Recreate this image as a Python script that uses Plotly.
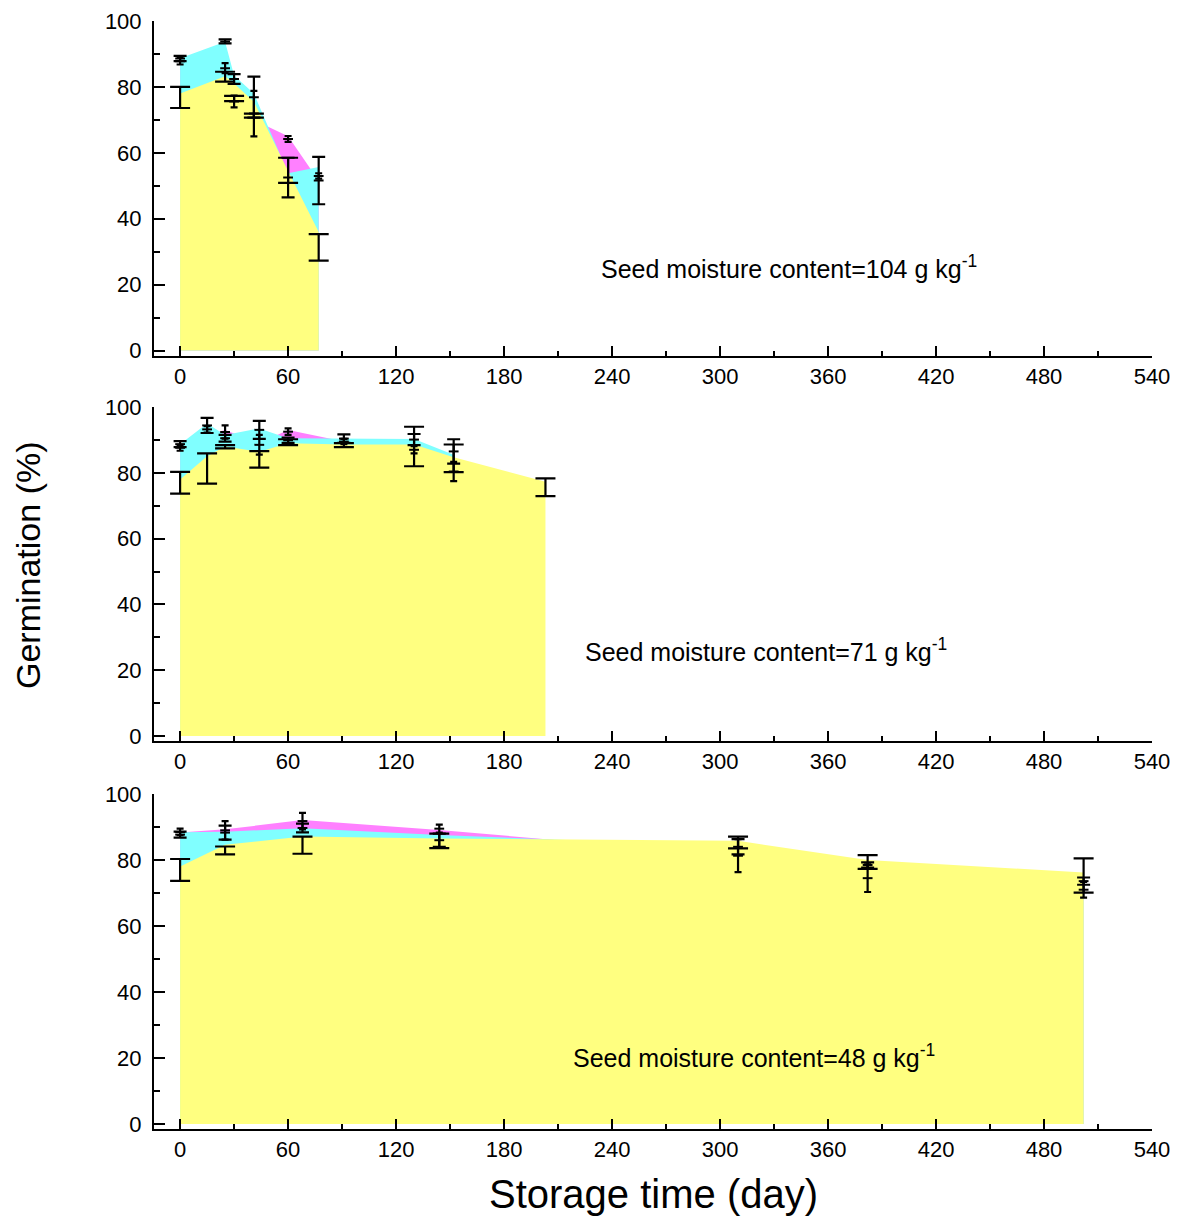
import plotly.graph_objects as go

# ---------------- data ----------------
# Panel 1: seed moisture content 104 g/kg
p1_days = [0, 25, 30, 41, 60, 77]
p1_mag_area = [87.8, 85.7, 82.0, 70.0, 65.0, 51.5]
p1_cya_area = [88.7, 93.7, 83.5, 78.0, 53.8, 55.7]
p1_yel_area = [78.0, 83.2, 81.0, 75.5, 54.5, 36.0]
p1_mag_bar = [87.8, 85.7, 75.6, 71.9, 64.2, 53.0]
p1_mag_err = [1.0, 1.5, 1.8, 6.9, 0.9, 0.8]
p1_cya_bar = [88.6, 93.8, 82.4, 76.9, 52.5, 51.6]
p1_cya_err = [0.8, 0.6, 1.5, 6.2, 6.0, 7.2]
p1_yel_bar = [76.8, 83.1, 76.5, 71.3, 54.7, 31.3]
p1_yel_err = [3.2, 1.5, 0.8, 0.6, 3.8, 4.0]

# Panel 2: seed moisture content 71 g/kg
p2_days = [0, 15, 25, 44, 60, 91, 130, 152]
p2_yel_days = [0, 15, 25, 44, 60, 91, 130, 152, 203]
p2_mag_area = [87.5, 91.5, 93.0, 89.0, 93.0, 89.5, 86.5, 80.4]
p2_cya_area = [88.7, 95.0, 91.5, 93.5, 90.5, 90.5, 90.3, 85.5]
p2_yel_area = [78.0, 85.0, 88.0, 86.4, 89.0, 88.6, 88.6, 84.7, 77.3]
p2_mag_bar = [87.6, 93.2, 92.4, 88.5, 92.5, 89.5, 87.0, 80.4]
p2_mag_err = [0.9, 1.0, 2.0, 3.0, 1.0, 0.8, 1.1, 2.9]
p2_cya_bar = [88.7, 94.4, 90.5, 93.05, 89.9, 90.4, 90.1, 86.5]
p2_cya_err = [0.9, 2.3, 1.0, 2.75, 0.8, 1.3, 1.7, 3.7]
p2_yel_bar = [77.0, 81.3, 87.9, 84.1, 89.3, 88.4, 88.0, 84.4, 75.6]
p2_yel_err = [3.3, 4.6, 0.5, 2.5, 0.9, 0.6, 6.0, 4.2, 2.7]

# Panel 3: seed moisture content 48 g/kg
p3_days = [0, 25, 68, 144, 310, 382, 502]
p3_mag_area = [88.3, 89.3, 92.1, 89.1, 81.3, 74.5, 71.0]
p3_cya_area = [88.4, 88.6, 89.6, 87.6, 84.0, 78.5, 73.6]
p3_yel_area = [78.0, 84.6, 87.1, 86.5, 85.8, 80.0, 76.2]
p3_mag_bar = [88.5, 89.0, 91.8, 89.5, 81.3, 74.5, 71.0]
p3_mag_err = [1.0, 2.8, 2.5, 1.2, 5.0, 4.2, 2.4]
p3_cya_bar = [87.7, 88.3, 89.7, 86.0, 84.0, 78.5, 73.6]
p3_cya_err = [0.9, 2.1, 1.3, 2.0, 2.3, 0.8, 1.1]
p3_yel_bar = [77.0, 82.9, 84.5, 85.8, 85.3, 79.4, 75.3]
p3_yel_err = [3.3, 1.2, 2.6, 2.2, 1.8, 2.1, 5.2]

panel_labels = ["Seed moisture content=104 g kg<sup>-1</sup>",
                "Seed moisture content=71 g kg<sup>-1</sup>",
                "Seed moisture content=48 g kg<sup>-1</sup>"]
label_pos = [(233, 25.5), (224, 26.1), (217, 20.6)]

x_ticks = [0, 60, 120, 180, 240, 300, 360, 420, 480, 540]
x_minor = [30, 90, 150, 210, 270, 330, 390, 450, 510]
y_ticks = [0, 20, 40, 60, 80, 100]
y_minor = [10, 30, 50, 70, 90]

# ---------------- styles ----------------
MAG = "#FF80FF"
CYA = "#80FFFF"
YEL = "#FFFF80"
FONT = "Liberation Sans, Arial, sans-serif"

panels = [
    dict(days=p1_days, ydays=p1_days, mag=p1_mag_area, cya=p1_cya_area, yel=p1_yel_area,
         mb=p1_mag_bar, me=p1_mag_err, cb=p1_cya_bar, ce=p1_cya_err, yb=p1_yel_bar, ye=p1_yel_err),
    dict(days=p2_days, ydays=p2_yel_days, mag=p2_mag_area, cya=p2_cya_area, yel=p2_yel_area,
         mb=p2_mag_bar, me=p2_mag_err, cb=p2_cya_bar, ce=p2_cya_err, yb=p2_yel_bar, ye=p2_yel_err),
    dict(days=p3_days, ydays=p3_days, mag=p3_mag_area, cya=p3_cya_area, yel=p3_yel_area,
         mb=p3_mag_bar, me=p3_mag_err, cb=p3_cya_bar, ce=p3_cya_err, yb=p3_yel_bar, ye=p3_yel_err),
]

W, H = 1187, 1216
x_dom = [154 / W, 1152 / W]
y_doms = [[1 - 355.5 / H, 1 - 21 / H],
          [1 - 741 / H, 1 - 407 / H],
          [1 - 1129 / H, 1 - 794 / H]]

fig = go.Figure()

for i, p in enumerate(panels):
    xa = "x" if i == 0 else f"x{i+1}"
    ya = "y" if i == 0 else f"y{i+1}"
    for days, vals, col in [(p["days"], p["mag"], MAG), (p["days"], p["cya"], CYA), (p["ydays"], p["yel"], YEL)]:
        fig.add_trace(go.Scatter(x=days, y=vals, mode="lines", fill="tozeroy",
                                 fillcolor=col, line=dict(width=0, color=col),
                                 xaxis=xa, yaxis=ya, showlegend=False, hoverinfo="skip"))
    for days, m, e, capw, show_mid in [(p["days"], p["mb"], p["me"], 3.5, True),
                                       (p["days"], p["cb"], p["ce"], 6.5, True),
                                       (p["ydays"], p["yb"], p["ye"], 10, False)]:
        if show_mid:
            mk = dict(symbol="line-ew", size=7, color="black", line=dict(width=2, color="black"))
        else:
            mk = dict(symbol="circle", size=1, color="rgba(0,0,0,0)", line=dict(width=0))
        fig.add_trace(go.Scatter(x=days, y=m, mode="markers", marker=mk,
                                 error_y=dict(type="data", array=e, visible=True, color="black",
                                              thickness=2.2, width=capw),
                                 xaxis=xa, yaxis=ya, showlegend=False, hoverinfo="skip"))

layout = dict(width=W, height=H, autosize=False,
              margin=dict(l=0, r=0, t=0, b=0, pad=0, autoexpand=False),
              paper_bgcolor="white", plot_bgcolor="white",
              font=dict(family=FONT, color="black", size=21))

for i in range(3):
    xk = "xaxis" if i == 0 else f"xaxis{i+1}"
    yk = "yaxis" if i == 0 else f"yaxis{i+1}"
    ya = "y" if i == 0 else f"y{i+1}"
    xa = "x" if i == 0 else f"x{i+1}"
    layout[xk] = dict(domain=x_dom, range=[-14.5, 540], anchor=ya, automargin=False,
                      tickmode="array", tickvals=x_ticks, ticktext=[str(t) for t in x_ticks],
                      ticks="inside", ticklen=10, tickwidth=2, tickcolor="black",
                      showline=True, linecolor="black", linewidth=2,
                      showgrid=False, zeroline=False, ticklabelstandoff=0,
                      minor=dict(ticks="inside", ticklen=5, tickwidth=2, tickcolor="black",
                                 tickmode="array", tickvals=x_minor, showgrid=False),
                      tickfont=dict(family=FONT, size=22, color="black"))
    layout[yk] = dict(domain=y_doms[i], range=[-1.5, 100], anchor=xa, automargin=False,
                      tickmode="array", tickvals=y_ticks, ticktext=[str(t) for t in y_ticks],
                      ticks="inside", ticklen=11, tickwidth=2, tickcolor="black",
                      showline=True, linecolor="black", linewidth=2,
                      showgrid=False, zeroline=False, ticklabelstandoff=6,
                      minor=dict(ticks="inside", ticklen=6, tickwidth=2, tickcolor="black",
                                 tickmode="array", tickvals=y_minor, showgrid=False),
                      tickfont=dict(family=FONT, size=22, color="black"))

annotations = []
for i in range(3):
    xa = "x" if i == 0 else f"x{i+1}"
    ya = "y" if i == 0 else f"y{i+1}"
    annotations.append(dict(text=panel_labels[i], x=label_pos[i][0], y=label_pos[i][1],
                            xref=xa, yref=ya, xanchor="left", yanchor="middle",
                            showarrow=False, font=dict(family=FONT, size=25, color="black")))
annotations.append(dict(text="Germination (%)", x=28 / W, y=1 - 565 / H, xref="paper", yref="paper",
                        textangle=-90, showarrow=False, xanchor="center", yanchor="middle",
                        font=dict(family=FONT, size=34, color="black")))
annotations.append(dict(text="Storage time (day)", x=653 / W, y=1 - 1194 / H, xref="paper", yref="paper",
                        showarrow=False, xanchor="center", yanchor="middle",
                        font=dict(family=FONT, size=40, color="black")))
layout["annotations"] = annotations

fig.update_layout(**layout)
fig.write_html("out.html", config={"responsive": False})
